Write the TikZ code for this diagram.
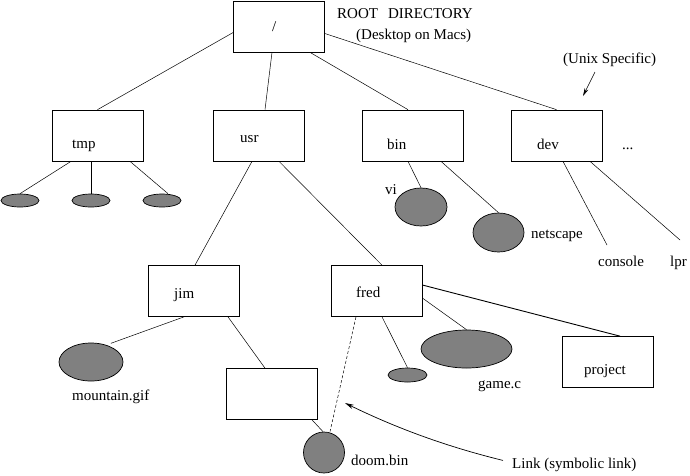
\documentclass[tikz,border=0pt]{standalone}
\usepackage{fontspec}
\setmainfont{Liberation Serif}
\usetikzlibrary{arrows.meta,shapes.geometric}
\begin{document}
\begin{tikzpicture}[x=1pt,y=-1pt,
  box/.style={draw,line width=0.7pt,minimum width=91pt,minimum height=51pt,inner sep=0pt},
  blob/.style={draw,line width=0.7pt,fill=black!50,ellipse,inner sep=0pt},
  lbl/.style={anchor=base west,inner sep=0pt,font=\fontsize{15}{17}\selectfont},
  edge/.style={line width=0.5pt}]
\useasboundingbox (0,0) rectangle (690,475);
% boxes
\node[box] (root) at (279,26.5) {};
\node[box] (tmp) at (97.5,135.5) {};
\node[box] (usr) at (259,135.5) {};
\node[box,minimum width=101pt] (bin) at (412.5,135.5) {};
\node[box] (dev) at (556.5,135.5) {};
\node[box] (jim) at (194,291) {};
\node[box] (fred) at (376.5,291) {};
\node[box] (empty) at (272,394) {};
\node[box] (project) at (608,362) {};
% ellipses
\node[blob,minimum width=38pt,minimum height=13pt] (t1) at (20,200.5) {};
\node[blob,minimum width=38pt,minimum height=13pt] (t2) at (91,200.5) {};
\node[blob,minimum width=38pt,minimum height=13pt] (t3) at (162,200.5) {};
\node[blob,minimum width=52pt,minimum height=38pt] (vi) at (421,207) {};
\node[blob,minimum width=51pt,minimum height=39pt] (ns) at (498.5,232.5) {};
\node[blob,minimum width=64pt,minimum height=38pt] (mg) at (91,362) {};
\node[blob,minimum width=41pt,minimum height=41pt] (doom) at (324,452.5) {};
\node[blob,minimum width=39pt,minimum height=14pt] (small) at (407.5,375) {};
\node[blob,minimum width=91pt,minimum height=38pt] (game) at (466.5,349) {};
% labels
\node[lbl] (rootl) at (272,31) {/};
\node[lbl] (rd) at (337,18) {ROOT\ \ \,DIRECTORY};
\node[lbl] (desk) at (356,39) {(Desktop on Macs)};
\node[lbl] (unix) at (563,63) {(Unix Specific)};
\node[lbl] (tmpl) at (72,148) {tmp};
\node[lbl] (usrl) at (240,142) {usr};
\node[lbl] (binl) at (387,149) {bin};
\node[lbl] (devl) at (537,149) {dev};
\node[lbl] (dots) at (622,149) {...};
\node[lbl] (vil) at (385,194) {vi};
\node[lbl] (nsl) at (531,238) {netscape};
\node[lbl] (con) at (598,266) {console};
\node[lbl] (lpr) at (670,266) {lpr};
\node[lbl] (jiml) at (174,298) {jim};
\node[lbl] (fredl) at (356,297) {fred};
\node[lbl] (mgl) at (72,400) {mountain.gif};
\node[lbl] (gamel) at (478,388) {game.c};
\node[lbl] (projl) at (584,374) {project};
\node[lbl] (dooml) at (351,465) {doom.bin};
\node[lbl] (link) at (512,468) {Link (symbolic link)};
\coordinate (conend) at (607,245);
\coordinate (lprend) at (680,240);
\coordinate (unixtail) at (595,72);
\coordinate (unixtip) at (583,96);
% connectors
\draw[edge] ([yshift=-6pt]root.west) -- (tmp.north);
\draw[edge] ([xshift=-7pt]root.south) -- ([xshift=6pt]usr.north);
\draw[edge] ([xshift=31pt]root.south) -- ([xshift=-4.5pt]bin.north);
\draw[edge] ([yshift=-7pt]root.east) -- (dev.north);
\draw[edge] ([xshift=-26.5pt]tmp.south) -- (t1.north);
\draw[edge] ([xshift=-6.5pt]tmp.south) -- (t2.north);
\draw[edge] ([xshift=32.5pt]tmp.south) -- ([xshift=6pt]t3.north);
\draw[edge] ([xshift=-4.5pt]bin.south) -- (vi.north);
\draw[edge] ([xshift=28.5pt]bin.south) -- (ns.north);
\draw[edge] ([xshift=6.5pt]dev.south) -- (conend);
\draw[edge] ([xshift=33.5pt]dev.south) -- (lprend);
\draw[edge] ([xshift=-7pt]usr.south) -- ([xshift=1pt]jim.north);
\draw[edge] ([xshift=20pt]usr.south) -- ([xshift=5.5pt]fred.north);
\draw[edge] ([xshift=-10pt]jim.south) -- ([xshift=-3pt,yshift=5pt]mg.north east);
\draw[edge] ([xshift=34pt]jim.south) -- ([xshift=-7pt]empty.north);
\draw[edge] ([xshift=40pt]empty.south) -- ([xshift=-1pt]doom.north);
\draw[edge,dashed,dash pattern=on 3pt off 2pt] ([xshift=-20.5pt]fred.south) -- ([xshift=6pt]doom.north);
\draw[edge] ([xshift=5.5pt]fred.south) -- (small.north);
\draw[edge] ([yshift=-7pt]fred.east) -- (game.north);
\draw[edge,line width=0.9pt] ([yshift=6pt]fred.east) -- ([xshift=12pt]project.north);
\draw[edge,-{Stealth[length=8pt,width=4pt]}] (unixtail) -- (unixtip);
\draw[edge,line width=0.7pt,-{Stealth[length=9pt,width=4.5pt]}] ([xshift=-9pt,yshift=4pt]link.west) .. controls (440,445) and (390,425) .. (345,403);
\end{tikzpicture}
\end{document}
